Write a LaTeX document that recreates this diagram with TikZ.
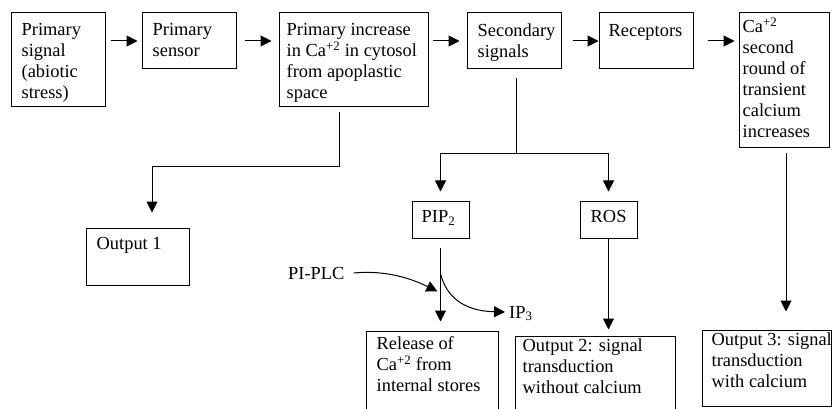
\documentclass[tikz,border=0pt]{standalone}
\usepackage{fontspec}
\setmainfont{Liberation Serif}
\usetikzlibrary{arrows.meta}

\tikzset{
  x=1pt, y=-1pt,
  box/.style={draw, line width=1pt, inner sep=0pt, rectangle},
  txt/.style={anchor=north west, inner sep=0pt, align=left,
              font=\fontsize{18.4}{21}\selectfont},
  link/.style={line width=1pt, -{Triangle[length=11pt,width=11pt]}},
  wire/.style={line width=1pt},
}

% name, left, top, width, height, text x-pad, text y-pad, text
\newcommand{\flowbox}[8]{%
  \node[box, minimum width=#4pt, minimum height=#5pt] (#1) at (#2+#4/2, #3+#5/2) {};
  \node[txt] at ([xshift=#6pt, yshift=-#7pt]#1.north west) {#8};
}

\begin{document}
\begin{tikzpicture}
\useasboundingbox (0,0) rectangle (833,409);
\clip (0,0) rectangle (833,409);
\fill[white] (0,0) rectangle (833,409);

% top row
\flowbox{b1}{11}{13}{94}{94}{11}{11}{Primary\\signal\\(abiotic\\stress)}
\flowbox{b2}{142}{13}{94}{56}{11}{11}{Primary\\sensor}
\flowbox{b3}{279}{13}{149}{94}{8}{11}{Primary increase\\in Ca\textsuperscript{+2} in cytosol\\from apoplastic\\space}
\flowbox{b4}{467}{13}{94}{56}{11}{11}{Secondary\\signals}
\flowbox{b5}{599}{13}{94}{56}{10}{12}{Receptors}
\flowbox{b6}{739}{13}{90}{135}{4}{5}{Ca\textsuperscript{+2}\\second\\round of\\transient\\calcium\\increases}

% middle row
\flowbox{out1}{86}{228}{103}{57}{11}{10}{Output 1}
\flowbox{pip}{412}{201}{57}{37}{10}{10}{PIP\textsubscript{2}}
\flowbox{ros}{580}{201}{57}{37}{11}{10}{ROS}

% bottom row
\flowbox{rel}{366}{331}{132}{100}{11}{6}{Release of\\Ca\textsuperscript{+2} from\\internal stores}
\flowbox{out2}{515}{336}{160}{100}{8}{3}{Output 2: signal\\transduction\\without calcium}
\flowbox{out3}{702}{330}{129}{76}{10}{3}{Output 3: signal\\transduction\\with calcium}

% free labels
\node[txt, anchor=base west] (plc) at (288,279) {PI-PLC};
\node[txt, anchor=base west] (ip) at (509,318) {IP\textsubscript{3}};

% branch points
\coordinate (k1) at (339,167);
\coordinate (k2) at (152,167);
\coordinate (k3) at (516,154);
\coordinate (split) at (441,275);
\coordinate (hit) at (441,293);
\coordinate (ipend) at (505,312);

% main chain
\draw[link, shorten <=5pt, shorten >=4pt] (b1.east |- b2.west) -- (b2.west);
\draw[link, shorten <=8pt, shorten >=7pt] (b2.east) -- (b3.west |- b2.east);
\draw[link, shorten <=4pt, shorten >=7pt] (b3.east |- b4.west) -- (b4.west);
\draw[link, shorten <=11pt] (b4.east) -- (b5.west);
\draw[link, shorten <=14pt, shorten >=4pt] (b5.east) -- (b6.west |- b5.east);

% primary increase to output 1
\draw[link, shorten <=5pt, shorten >=15pt] (b3.south -| k1) -- (k1) -- (k2) -- (out1.north -| k2);

% secondary signals split
\draw[wire, shorten <=9pt] (b4.south -| k3) -- (k3);
\draw[link, shorten >=9pt] (k3) -| (pip.north);
\draw[link, shorten >=9pt] (k3) -| (ros.north);

% downstream
\draw[link, shorten <=9pt, shorten >=9pt] (pip.south) -- (pip.south |- rel.north);
\draw[link, shorten >=6pt] (ros.south) -- (ros.south |- out2.north);
\draw[link, shorten <=5pt, shorten >=18pt] ([xshift=2pt]b6.south) -- ([xshift=2pt]b6.south |- out3.north);

% PI-PLC cleavage of PIP2 into IP3
\draw[link, shorten >=4pt] ([xshift=9pt]plc.east) .. controls (385,270) and (410,278) .. (hit);
\draw[link] (split) .. controls (446,295) and (462,311) .. (ipend);
\end{tikzpicture}
\end{document}
